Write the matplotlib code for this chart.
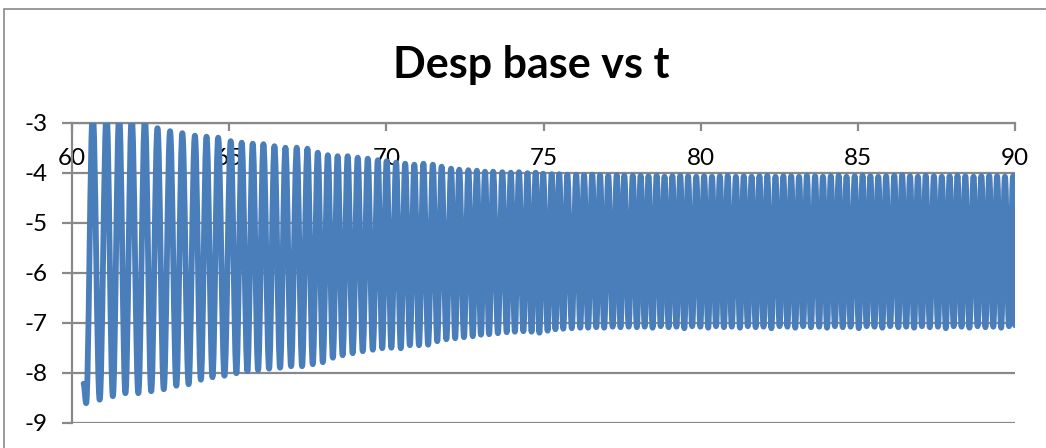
import matplotlib
matplotlib.use("Agg")
import matplotlib.pyplot as plt
from matplotlib.path import Path
from matplotlib.patches import PathPatch, Rectangle

plt.rcParams['font.family'] = ['Lato', 'DejaVu Sans']
plt.rcParams['axes.unicode_minus'] = False

title = "Desp base vs t"
x_ticks = [60, 65, 70, 75, 80, 85, 90]
y_ticks = [-9, -8, -7, -6, -5, -4, -3]

start_t = 60.37
start_v = -8.22

peak_t = [
    60.66, 61.10, 61.50, 61.90, 62.32, 62.72, 63.12, 63.51, 63.91, 64.28, 64.65, 65.05, 65.40, 65.75,
    66.09, 66.44, 66.79, 67.15, 67.49, 67.82, 68.14, 68.45, 68.77, 69.09, 69.41, 69.73, 70.01,
    70.31, 70.60, 70.89, 71.18, 71.48, 71.76, 72.06, 72.32, 72.61, 72.88, 73.14, 73.40,
    73.69, 73.96, 74.22, 74.49, 74.75, 74.99, 75.26, 75.50, 75.76, 76.04, 76.29, 76.55, 76.80,
    77.06, 77.33, 77.57, 77.84,
    78.09, 78.34, 78.60, 78.85, 79.10, 79.35, 79.60, 79.86, 80.11, 80.36, 80.61, 80.86,
    81.12, 81.37, 81.62, 81.87, 82.12, 82.38, 82.63, 82.88, 83.13, 83.38, 83.64, 83.89,
    84.14, 84.39, 84.64, 84.90, 85.15, 85.40, 85.65, 85.90, 86.16, 86.41, 86.66, 86.91,
    87.16, 87.42, 87.67, 87.92, 88.17, 88.42, 88.68, 88.93, 89.18, 89.43, 89.68, 89.94,
]
peak_v = [
    -2.80, -2.82, -2.85, -2.88, -2.92, -3.11, -3.17, -3.21, -3.26, -3.28, -3.30, -3.37, -3.40, -3.42,
    -3.43, -3.47, -3.50, -3.50, -3.52, -3.60, -3.65, -3.67, -3.67, -3.70, -3.72, -3.75, -3.77,
    -3.80, -3.82, -3.84, -3.82, -3.84, -3.88, -3.92, -3.94, -3.95, -3.96, -3.98, -3.98,
    -3.99, -4.00, -3.99, -4.01, -4.00, -4.02, -4.03, -4.03, -4.04, -4.04, -4.05, -4.04, -4.05,
    -4.06, -4.05, -4.06, -4.06,
    -4.06, -4.07, -4.06, -4.08, -4.07, -4.06, -4.07, -4.08, -4.07, -4.08, -4.07, -4.06,
    -4.08, -4.07, -4.08, -4.07, -4.06, -4.08, -4.07, -4.07, -4.08, -4.06, -4.07, -4.08,
    -4.07, -4.06, -4.08, -4.07, -4.06, -4.07, -4.08, -4.07, -4.06, -4.05, -4.07, -4.08,
    -4.06, -4.07, -4.08, -4.07, -4.06, -4.07, -4.08, -4.07, -4.06, -4.07, -4.08, -4.07,
]

trough_t = [
    60.45,
    60.88, 61.30, 61.70, 62.11, 62.52, 62.92, 63.32, 63.71, 64.10, 64.47, 64.85, 65.23, 65.58,
    65.92, 66.27, 66.62, 66.97, 67.32, 67.66, 67.98, 68.30, 68.61, 68.93, 69.25, 69.57, 69.87,
    70.16, 70.46, 70.75, 71.04, 71.33, 71.62, 71.91, 72.19, 72.47, 72.75, 73.01, 73.27, 73.55,
    73.83, 74.09, 74.36, 74.62, 74.87, 75.13, 75.38, 75.63, 75.90, 76.17, 76.42, 76.68, 76.93,
    77.20, 77.45, 77.71, 77.97,
    78.22, 78.47, 78.73, 78.98, 79.23, 79.48, 79.73, 79.99, 80.24, 80.49, 80.74, 80.99,
    81.25, 81.50, 81.75, 82.00, 82.25, 82.51, 82.76, 83.01, 83.26, 83.51, 83.77, 84.02,
    84.27, 84.52, 84.77, 85.03, 85.28, 85.53, 85.78, 86.03, 86.29, 86.54, 86.79, 87.04,
    87.29, 87.55, 87.80, 88.05, 88.30, 88.55, 88.81, 89.06, 89.31, 89.56, 89.81,
    90.00,
]
trough_v = [
    -8.61,
    -8.54, -8.47, -8.41, -8.41, -8.37, -8.33, -8.26, -8.23, -8.14, -8.09, -8.06, -8.01, -7.97,
    -7.95, -7.92, -7.90, -7.87, -7.87, -7.83, -7.79, -7.70, -7.65, -7.61, -7.57, -7.54, -7.51,
    -7.50, -7.51, -7.45, -7.45, -7.44, -7.37, -7.33, -7.31, -7.29, -7.27, -7.24, -7.23, -7.21,
    -7.19, -7.18, -7.17, -7.18, -7.20, -7.16, -7.13, -7.12, -7.11, -7.10, -7.10, -7.09, -7.10,
    -7.08, -7.09, -7.08, -7.09,
    -7.08, -7.10, -7.07, -7.09, -7.08, -7.11, -7.07, -7.08, -7.10, -7.07, -7.09, -7.08,
    -7.10, -7.07, -7.09, -7.08, -7.11, -7.07, -7.08, -7.10, -7.07, -7.09, -7.08, -7.10,
    -7.07, -7.09, -7.08, -7.11, -7.07, -7.08, -7.10, -7.07, -7.09, -7.08, -7.10, -7.07,
    -7.09, -7.08, -7.11, -7.07, -7.08, -7.10, -7.07, -7.09, -7.08, -7.10, -7.07,
    -7.05,
]

LINE = '#4A7EBB'
GRID = '#898989'
W, H = 1046, 448

fig = plt.figure(figsize=(W / 100, H / 100), dpi=100)
fig.patches.append(Rectangle((4 / W, -0.1), 1.2, 1 - 9.5 / H + 0.1,
                             transform=fig.transFigure, fill=False,
                             edgecolor=GRID, lw=1.2))

ax = fig.add_axes([72 / W, 1 - 422.7 / H, (1015 - 72) / W, 300 / H])
ax.set_xlim(60, 90)
ax.set_ylim(-9, -3)

# merge extremes in time order
pts = sorted([(t, v) for t, v in zip(peak_t, peak_v)] +
             [(t, v) for t, v in zip(trough_t, trough_v)])
pts = [(start_t, start_v)] + pts

verts = [pts[0]]
codes = [Path.MOVETO]
k = 0.36
for (x0, y0), (x1, y1) in zip(pts[:-1], pts[1:]):
    dx = x1 - x0
    verts += [(x0 + k * dx, y0), (x1 - k * dx, y1), (x1, y1)]
    codes += [Path.CURVE4, Path.CURVE4, Path.CURVE4]
patch = PathPatch(Path(verts, codes), facecolor='none', edgecolor=LINE,
                  lw=4.2, capstyle='round', joinstyle='round', zorder=3)
ax.add_patch(patch)

ax.set_yticks(y_ticks)
ax.set_yticklabels([str(v) for v in y_ticks])
ax.set_xticks(x_ticks)
ax.set_xticklabels([str(v) for v in x_ticks])
ax.yaxis.grid(True, color=GRID, lw=1.6, zorder=0)
ax.set_axisbelow(True)

for s in ['top', 'right']:
    ax.spines[s].set_visible(False)
ax.spines['bottom'].set_position(('data', -3))
ax.spines['bottom'].set_color(GRID)
ax.spines['bottom'].set_linewidth(1.6)
ax.spines['left'].set_color(GRID)
ax.spines['left'].set_linewidth(1.6)
ax.tick_params(axis='y', direction='out', length=7, width=1.6, color=GRID,
               labelsize=17.5, pad=10.5, labelcolor='black')
ax.tick_params(axis='x', direction='out', length=5.5, width=1.6, color=GRID,
               labelsize=17.5, pad=12.5, labelcolor='black')
ax.set_facecolor('white')

fig.text(0.508, 1 - 78 / H, title, ha='center', va='baseline',
         fontsize=31, fontweight='bold')

fig.savefig('out.png', dpi=100, facecolor='white')
